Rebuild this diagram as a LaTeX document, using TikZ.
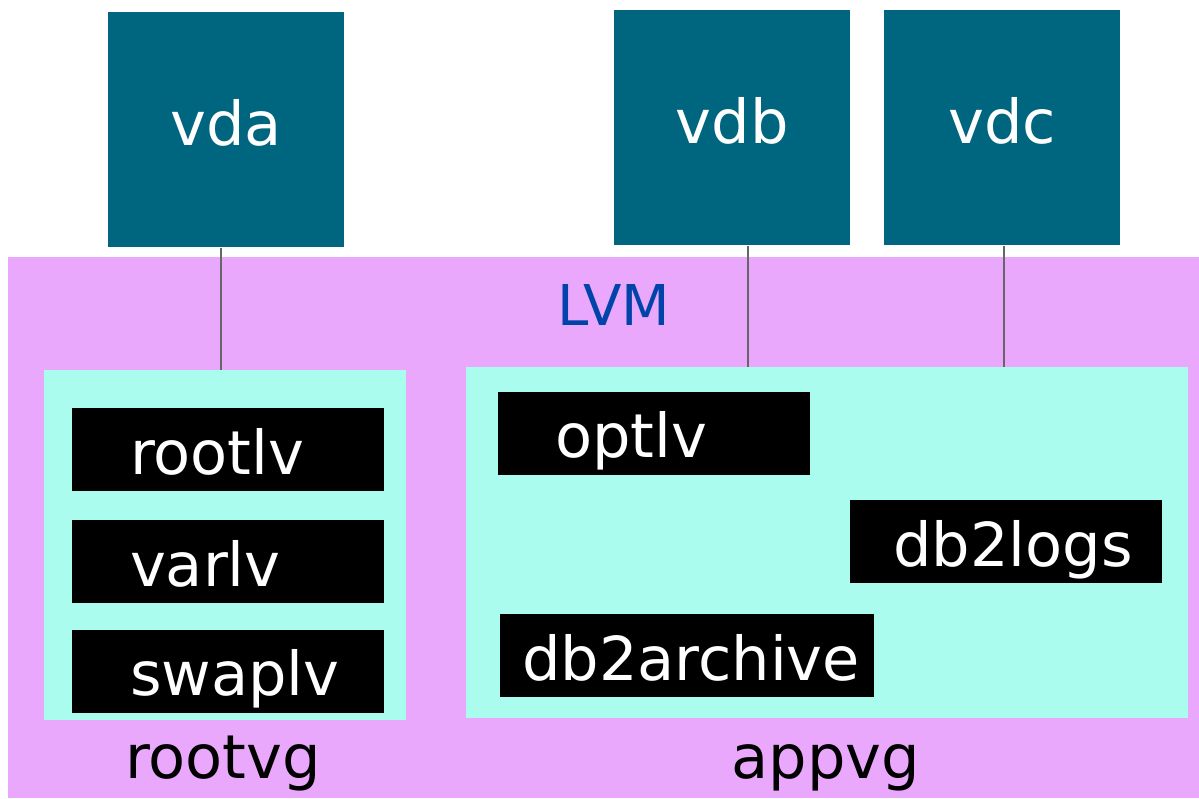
\documentclass[tikz,border=0pt]{standalone}
\usepackage{fontspec}
\setmainfont{DejaVu Sans}
\usepackage{xcolor}
\definecolor{diskteal}{HTML}{006680}
\definecolor{lvmpink}{HTML}{EAA8FC}
\definecolor{vgcyan}{HTML}{AAFCEE}
\definecolor{lvmblue}{HTML}{0044AA}
\usepackage{tikz}
\usetikzlibrary{positioning}
\tikzset{
    bigfont/.style  = {font=\fontsize{34.5}{40}\selectfont},
    diskbox/.style  = {rectangle, fill=diskteal, text=white, bigfont,
                       minimum width=4.72cm, minimum height=4.7cm,
                       text height=0.9cm, text depth=0.28cm,
                       inner sep=0pt},
    vgbox/.style    = {rectangle, fill=vgcyan, inner sep=0pt},
    lvbox/.style    = {rectangle, fill=black, text=white, bigfont,
                       text width=6.24cm, align=left, inner xsep=0pt,
                       minimum height=1.66cm, inner ysep=0pt,
                       text height=1.18cm, text depth=0.2cm,
                       execute at begin node={\hspace*{#1}}},
    lvbox/.default  = 1.16cm,
    linkLine/.style = {draw=black!60, line width=0.8pt}
}
\begin{document}
\begin{tikzpicture}[x=0.02cm, y=-0.02cm]

\useasboundingbox (0,0) rectangle (1199,798);

% ===== LVM area =====
\node[rectangle, fill=lvmpink, inner sep=0pt, anchor=north west,
      minimum width=23.82cm, minimum height=10.82cm] (lvm) at (8,257) {};
\node[anchor=base, text=lvmblue, font=\fontsize{32}{38}\selectfont]
   (lvmtitle) at (614,325) {LVM};

% ===== Volume groups =====
\node[vgbox, anchor=north west, minimum width=7.24cm, minimum height=7.0cm]
   (rootvg) at (44,370) {};
\node[vgbox, anchor=north west, minimum width=14.44cm, minimum height=7.02cm]
   (appvg) at (466,367) {};

\node[bigfont, anchor=base] (rootvglbl) at (223,778) {rootvg};
\node[bigfont, anchor=base] (appvglbl) at (826,778) {appvg};

% ===== Logical volumes =====
\node[lvbox] (rootlv) at (228,449.5) {rootlv};
\node[lvbox] (varlv)  at (228,561.5) {varlv};
\node[lvbox] (swaplv) at (228,671)   {swaplv};

\node[lvbox=1.14cm] (optlv)   at (654,433)    {optlv};
\node[lvbox=0.86cm] (db2logs) at (1006,541.5) {db2logs};
\node[lvbox=0.44cm, text width=7.48cm] (db2archive) at (687,655.5) {db2archive};

% ===== Disks =====
\node[diskbox, anchor=north west] (vda) at (108,12) {vda};
\node[diskbox, anchor=north west] (vdb) at (614,10) {vdb};
\node[diskbox, anchor=north west] (vdc) at (884,10) {vdc};

% ===== Disk to volume group links =====
\draw[linkLine] (vda.south -| 221,0) -- (rootvg.north -| 221,0);
\draw[linkLine] (vdb.south -| 748,0) -- (appvg.north -| 748,0);
\draw[linkLine] (vdc.south -| 1004,0) -- (appvg.north -| 1004,0);

\end{tikzpicture}
\end{document}
